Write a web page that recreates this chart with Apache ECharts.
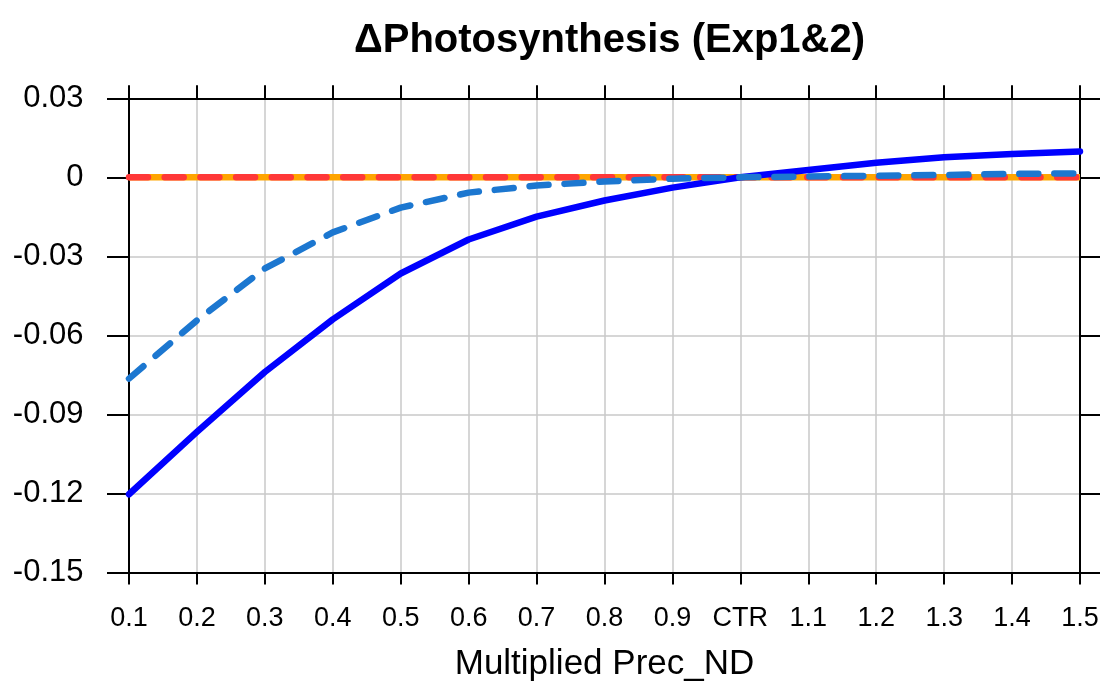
<!DOCTYPE html>
<html>
<head>
<meta charset="utf-8">
<script src="https://cdn.jsdelivr.net/npm/echarts@6/dist/echarts.min.js"></script>
<style>html,body{margin:0;padding:0;background:#fff;}#c{width:1105px;height:687px;}</style>
</head>
<body>
<div id="c"></div>
<script>
var categories = ['0.1','0.2','0.3','0.4','0.5','0.6','0.7','0.8','0.9','CTR','1.1','1.2','1.3','1.4','1.5'];
var exp1Solid = [-0.1203,-0.0966,-0.0739,-0.0539,-0.0365,-0.0236,-0.0149,-0.0088,-0.0039,0,0.0028,0.0055,0.0076,0.0089,0.0098];
var exp2Dashed = [-0.0764,-0.0543,-0.0346,-0.0209,-0.0115,-0.0058,-0.0031,-0.0016,-0.0005,0,0.0003,0.0006,0.0009,0.0013,0.0015];
var zeroOrange = [0,0,0,0,0,0,0,0,0,0,0,0,0,0,0];
var zeroRed = [0,0,0,0,0,0,0,0,0,0,0,0,0,0,0];
var yTicks = [0.03,0,-0.03,-0.06,-0.09,-0.12,-0.15];

var font = '"Liberation Sans", Arial, Helvetica, sans-serif';
var chart = echarts.init(document.getElementById('c'));
function fmt(v){ if (Math.abs(v) < 1e-9) return '0'; return v.toFixed(2); }
var axisLine = {show:true, onZero:false, lineStyle:{color:'#000', width:2}};
chart.setOption({
  animation:false,
  backgroundColor:'#fff',
  title:{text:'\u0394Photosynthesis (Exp1&2)', left:604.5, textAlign:'center', top:16,
    textStyle:{fontFamily:font, fontSize:40, fontWeight:'bold', color:'#000'}},
  grid:{left:129, right:25, top:98.3, bottom:113.5, containLabel:false},
  xAxis:[{
    type:'category', data:categories, boundaryGap:false, position:'bottom',
    name:'Multiplied Prec_ND', nameLocation:'middle', nameGap:74.5,
    nameTextStyle:{fontFamily:font, fontSize:35, color:'#000'},
    axisLine:axisLine, axisTick:{show:true, inside:false, length:12, lineStyle:{color:'#000', width:2}},
    axisLabel:{fontFamily:font, fontSize:27, color:'#000', margin:33, interval:0},
    splitLine:{show:true, lineStyle:{color:'#c8c8c8', width:1.5}}
  },{
    type:'category', data:categories, boundaryGap:false, position:'top',
    axisLine:axisLine, axisTick:{show:true, inside:false, length:13, lineStyle:{color:'#000', width:2}},
    axisLabel:{show:false}, splitLine:{show:false}
  }],
  yAxis:[{
    type:'value', min:-0.15, max:0.03, interval:0.03, position:'left',
    axisLine:axisLine, axisTick:{show:true, inside:false, length:22, lineStyle:{color:'#000', width:2}},
    axisLabel:{fontFamily:font, fontSize:31, color:'#000', margin:45.5, formatter:fmt},
    splitLine:{show:true, lineStyle:{color:'#c8c8c8', width:1.5}}
  },{
    type:'value', min:-0.15, max:0.03, interval:0.03, position:'right',
    axisLine:axisLine, axisTick:{show:true, inside:false, length:20, lineStyle:{color:'#000', width:2}},
    axisLabel:{show:false}, splitLine:{show:false}
  }],
  series:[
    {type:'line', data:zeroOrange, showSymbol:false, symbol:'none',
      lineStyle:{color:'#FFA500', width:6.5}},
    {type:'line', data:zeroRed, showSymbol:false, symbol:'none',
      lineStyle:{color:'#FF3838', width:6.5, type:[19,16.7], cap:'round'}},
    {type:'line', data:exp1Solid, showSymbol:false, symbol:'none',
      lineStyle:{color:'#0000FF', width:6.5, cap:'round', join:'round'}},
    {type:'line', data:exp2Dashed, showSymbol:false, symbol:'none',
      lineStyle:{color:'#1C77D0', width:6.5, type:[19,16], cap:'round'}}
  ]
});
</script>
</body>
</html>
